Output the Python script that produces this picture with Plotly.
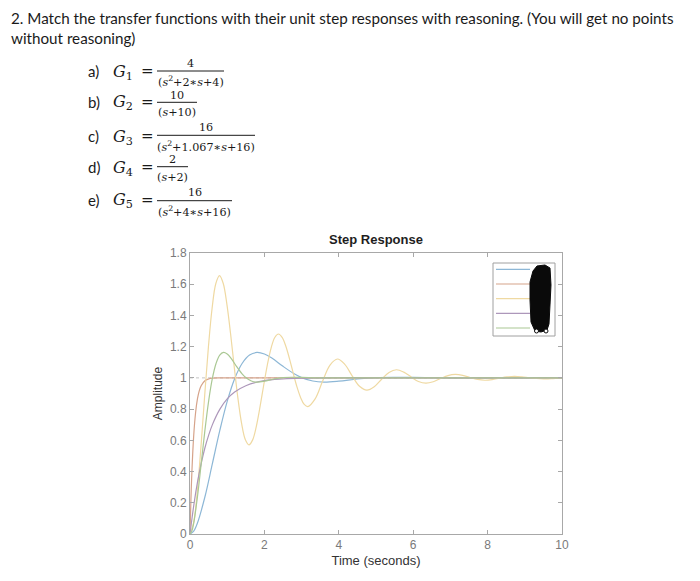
import plotly.graph_objects as go

# ---------------- data ----------------
series_names = ["G1", "G2", "G3", "G4", "G5"]

t_g1 = [0, 0.1, 0.2, 0.4, 0.6, 0.8, 1.0, 1.2, 1.4, 1.6, 1.8, 2.0, 2.2, 2.5, 2.8, 3.0,
        3.3, 3.6, 4.0, 4.5, 5.0, 5.5, 6.0, 7.0, 8.0, 10.0]
y_g1 = [0, 0.019, 0.070, 0.237, 0.449, 0.662, 0.850, 0.995, 1.092, 1.146, 1.163, 1.153,
        1.127, 1.074, 1.026, 1.002, 0.980, 0.973, 0.979, 0.993, 1.002, 1.004, 1.003,
        1.000, 1.000, 1.000]

t_g2 = [0, 0.025, 0.05, 0.1, 0.15, 0.2, 0.25, 0.3, 0.4, 0.5, 0.6, 0.8, 1.0, 10.0]
y_g2 = [0, 0.221, 0.393, 0.632, 0.777, 0.865, 0.918, 0.950, 0.982, 0.993, 0.998, 1.0,
        1.0, 1.0]

t_g3 = [0, 0.099, 0.198, 0.297, 0.396, 0.495, 0.594, 0.693, 0.793, 0.892, 0.991, 1.090,
        1.189, 1.288, 1.387, 1.486, 1.585, 1.684, 1.783, 1.882, 1.981, 2.081, 2.180,
        2.279, 2.378, 2.477, 2.576, 2.675, 2.774, 2.873, 2.972, 3.071, 3.170,
        3.368, 3.566, 3.764, 3.963, 4.161, 4.359, 4.557, 4.755, 4.953, 5.151, 5.350,
        5.548, 5.746, 5.944, 6.142, 6.340, 6.538, 6.736, 6.935, 7.133, 7.331, 7.529,
        7.727, 7.925, 8.123, 8.321, 8.520, 8.718, 8.916, 9.114, 9.312, 9.510, 9.708,
        9.907, 10.0]
y_g3 = [0, 0.075, 0.278, 0.567, 0.891, 1.198, 1.446, 1.603, 1.655, 1.606, 1.473, 1.284,
        1.071, 0.870, 0.708, 0.605, 0.571, 0.603, 0.690, 0.814, 0.953, 1.085, 1.191,
        1.259, 1.281, 1.260, 1.203, 1.122, 1.031, 0.944, 0.875, 0.830, 0.816,
        0.867, 0.980, 1.082, 1.121, 1.087, 1.013, 0.946, 0.921, 0.943, 0.991, 1.035,
        1.052, 1.037, 1.006, 0.977, 0.966, 0.975, 0.996, 1.015, 1.022, 1.016, 1.002,
        0.990, 0.985, 0.989, 0.998, 1.006, 1.010, 1.007, 1.001, 0.996, 0.994, 0.995,
        0.999, 1.000]

t_g4 = [0, 0.1, 0.2, 0.3, 0.4, 0.5, 0.6, 0.8, 1.0, 1.2, 1.5, 2.0, 2.5, 3.0, 4.0, 5.0,
        6.0, 10.0]
y_g4 = [0, 0.181, 0.330, 0.451, 0.551, 0.632, 0.699, 0.798, 0.865, 0.909, 0.950, 0.982,
        0.993, 0.998, 1.0, 1.0, 1.0, 1.0]

t_g5 = [0, 0.05, 0.1, 0.2, 0.3, 0.4, 0.5, 0.6, 0.7, 0.8, 0.9, 1.0, 1.1, 1.25, 1.4, 1.5,
        1.65, 1.8, 2.0, 2.25, 2.5, 2.75, 3.0, 3.5, 4.0, 10.0]
y_g5 = [0, 0.019, 0.070, 0.237, 0.449, 0.662, 0.850, 0.995, 1.092, 1.146, 1.163, 1.153,
        1.127, 1.074, 1.026, 1.002, 0.980, 0.973, 0.979, 0.993, 1.002, 1.004, 1.003,
        1.000, 1.000, 1.000]

x_ticks = [0, 2, 4, 6, 8, 10]
x_tick_labels = ["0", "2", "4", "6", "8", "10"]
y_ticks = [0, 0.2, 0.4, 0.6, 0.8, 1.0, 1.2, 1.4, 1.6, 1.8]
y_tick_labels = ["0", "0.2", "0.4", "0.6", "0.8", "1", "1.2", "1.4", "1.6", "1.8"]
steady_state = [1.0, 1.0]
steady_t = [0, 10]

# question text
question_lines = ["2. Match the transfer functions with their unit step responses with reasoning. (You will get no points",
                  "without reasoning)"]
item_labels = ["a)", "b)", "c)", "d)", "e)"]
item_subs = ["1", "2", "3", "4", "5"]
numerators = ["4", "10", "16", "2", "16"]
denominators = ["(<i>s</i><sup>2</sup>+2\u2217<i>s</i>+4)",
                "(<i>s</i>+10)",
                "(<i>s</i><sup>2</sup>+1.067\u2217<i>s</i>+16)",
                "(<i>s</i>+2)",
                "(<i>s</i><sup>2</sup>+4\u2217<i>s</i>+16)"]

# ---------------- styling / layout ----------------
PAGE_W, PAGE_H = 700, 581
OFF = 8                      # page body margin of the html page
W, H = PAGE_W - OFF, PAGE_H - OFF
L, R, T, B = 190, 562, 253, 534   # plot area in page pixels


def px(x):
    return (x - L) / (R - L)


def py(y):
    return (B - y) / (B - T)


colors = ["#8db7d6", "#d6a38a", "#efd9a2", "#ad97ba", "#aac894"]

fig = go.Figure()

fig.add_trace(go.Scatter(x=steady_t, y=steady_state, mode="lines",
                         line=dict(color="#c4c4c4", width=1, dash="dot"),
                         hoverinfo="skip", showlegend=False))

for name, tt, yy, c in zip(series_names,
                           [t_g1, t_g2, t_g3, t_g4, t_g5],
                           [y_g1, y_g2, y_g3, y_g4, y_g5], colors):
    fig.add_trace(go.Scatter(x=tt, y=yy, mode="lines", name=name,
                             line=dict(color=c, width=1.2, shape="spline", smoothing=1.0),
                             showlegend=False))

axis_col = "#a8a8a8"
tick_font = dict(family="Liberation Sans, Arial, sans-serif", size=12, color="#7a7a7a")

fig.update_layout(
    width=W, height=H, autosize=False,
    margin=dict(l=L - OFF, r=PAGE_W - R, t=T - OFF, b=PAGE_H - B, pad=0),
    paper_bgcolor="white", plot_bgcolor="white",
    title=dict(text="<b>Step Response</b>", x=((L + R) / 2 - OFF) / W, xanchor="center",
               y=1 - (239 - OFF) / H, yanchor="middle", xref="container", yref="container",
               font=dict(family="Liberation Sans, Arial, sans-serif", size=13, color="#1e1e1e")),
    xaxis=dict(range=[0, 10], tickvals=x_ticks, ticktext=x_tick_labels,
               ticks="inside", ticklen=4, tickcolor=axis_col, showline=True,
               linecolor=axis_col, linewidth=1, mirror="ticks", showgrid=False,
               zeroline=False, tickfont=tick_font,
               title=dict(text="Time (seconds)", standoff=4,
                          font=dict(family="Liberation Sans, Arial, sans-serif",
                                    size=13, color="#333333"))),
    yaxis=dict(range=[0, 1.8], tickvals=y_ticks, ticktext=y_tick_labels,
               ticks="inside", ticklen=4, tickcolor=axis_col, showline=True,
               linecolor=axis_col, linewidth=1, mirror="ticks", showgrid=False,
               zeroline=False, tickfont=tick_font,
               title=dict(text="Amplitude", standoff=4,
                          font=dict(family="Liberation Sans, Arial, sans-serif",
                                    size=12, color="#333333"))),
)

# ---------------- question text annotations ----------------
ann = []
text_font = dict(family="Lato, Liberation Sans, sans-serif", size=15.2, color="#1a1a1a")
label_font = dict(family="Lato, Liberation Sans, sans-serif", size=15, color="#1a1a1a")
ann.append(dict(text="<br>".join(question_lines), x=px(10), y=py(OFF), xref="paper",
                yref="paper", xanchor="left", yanchor="top", align="left",
                showarrow=False, font=text_font, borderpad=0))

row_y = [71, 102, 136, 167, 200]
num_y = [63, 96, 127.5, 159.5, 192.2]
line_y = [71, 102.3, 135.3, 166.7, 200.7]
den_y = [81, 112.3, 146.3, 177.3, 211]
line_x1 = [224, 197, 255, 188, 232]
line_x0 = 157

math_font = dict(family="DejaVu Serif, serif", size=11.2, color="#1a1a1a")
shapes = []
for i in range(5):
    ann.append(dict(text=item_labels[i], x=px(87), y=py(row_y[i]), xref="paper", yref="paper",
                    xanchor="left", yanchor="middle", showarrow=False, font=label_font,
                    borderpad=0))
    ann.append(dict(text="<i>G</i><sub>" + item_subs[i] + "</sub>", x=px(112), y=py(row_y[i] + 1),
                    xref="paper", yref="paper", xanchor="left", yanchor="middle",
                    showarrow=False, borderpad=0,
                    font=dict(family="DejaVu Serif, serif", size=16, color="#1a1a1a")))
    ann.append(dict(text="=", x=px(147), y=py(row_y[i]), xref="paper", yref="paper",
                    xanchor="center", yanchor="middle", showarrow=False, borderpad=0,
                    font=dict(family="DejaVu Serif, serif", size=15, color="#1a1a1a")))
    cx = (line_x0 + line_x1[i]) / 2
    ann.append(dict(text=numerators[i], x=px(cx), y=py(num_y[i]), xref="paper", yref="paper",
                    xanchor="center", yanchor="middle", showarrow=False, font=math_font,
                    borderpad=0))
    ann.append(dict(text=denominators[i], x=px(cx), y=py(den_y[i]), xref="paper", yref="paper",
                    xanchor="center", yanchor="middle", showarrow=False, font=math_font,
                    borderpad=0))
    shapes.append(dict(type="line", xref="paper", yref="paper",
                       x0=px(line_x0), x1=px(line_x1[i]), y0=py(line_y[i]), y1=py(line_y[i]),
                       line=dict(color="#1a1a1a", width=1)))

# ---------------- legend box (labels scribbled over) ----------------
shapes.append(dict(type="rect", xref="paper", yref="paper",
                   x0=px(493), x1=px(555), y0=py(263), y1=py(336),
                   line=dict(color="#a0a0a0", width=1), fillcolor="white", layer="above"))
legend_y = [269.3, 284, 298.7, 313.3, 328]
for c, ly in zip(colors, legend_y):
    shapes.append(dict(type="line", xref="paper", yref="paper",
                       x0=px(496), x1=px(530), y0=py(ly), y1=py(ly),
                       line=dict(color=c, width=1.2)))

blob = [(533, 271), (537, 266), (545, 265), (550, 268), (551, 285), (550, 305),
        (549, 324), (547, 330), (541, 332), (535, 331), (531, 322), (530, 300),
        (530, 282)]
path = "M " + " L ".join(f"{px(a):.5f},{py(b):.5f}" for a, b in blob) + " Z"
shapes.append(dict(type="path", xref="paper", yref="paper", path=path,
                   fillcolor="#0a0a0a", line=dict(color="#0a0a0a", width=1)))
for cxp in [536.5, 546]:
    shapes.append(dict(type="circle", xref="paper", yref="paper",
                       x0=px(cxp - 2), x1=px(cxp + 2), y0=py(329), y1=py(333),
                       fillcolor="white", line=dict(color="#0a0a0a", width=1)))

fig.update_layout(annotations=ann, shapes=shapes)

fig.write_html("out.html")
